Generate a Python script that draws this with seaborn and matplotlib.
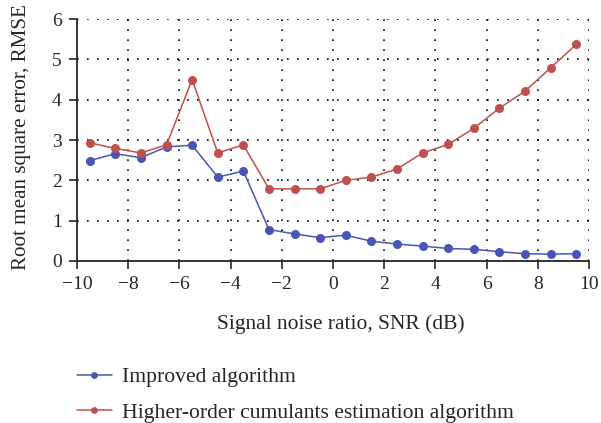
import numpy as np
import pandas as pd
import matplotlib.pyplot as plt
import seaborn as sns

snr = [-9.5, -8.5, -7.5, -6.5, -5.5, -4.5, -3.5, -2.5, -1.5, -0.5,
       0.5, 1.5, 2.5, 3.5, 4.5, 5.5, 6.5, 7.5, 8.5, 9.5]
improved = [2.49, 2.66, 2.56, 2.83, 2.87, 2.08, 2.23, 0.78, 0.67, 0.58,
            0.64, 0.49, 0.42, 0.37, 0.31, 0.29, 0.23, 0.18, 0.17, 0.18]
cumulants = [2.93, 2.79, 2.68, 2.88, 4.50, 2.68, 2.88, 1.79, 1.79, 1.79,
             2.00, 2.08, 2.28, 2.68, 2.89, 3.29, 3.79, 4.21, 4.79, 5.37]
labels = ["Improved algorithm", "Higher-order cumulants estimation algorithm"]

df = pd.DataFrame({
    "snr": snr * 2,
    "rmse": improved + cumulants,
    "alg": [labels[0]] * len(snr) + [labels[1]] * len(snr),
})

sns.set_style("ticks")
plt.rcParams["font.family"] = ["Liberation Serif", "DejaVu Serif"]

fig = plt.figure(figsize=(6.01, 4.23), dpi=100)
ax = fig.add_axes([0.128, 0.383, 0.852, 0.572])

sns.lineplot(data=df, x="snr", y="rmse", hue="alg", marker="o",
             palette=["#4756b5", "#c0504d"], markersize=6.5, markeredgewidth=0,
             linewidth=1.1, ax=ax)

ax.set_xlim(-10, 10)
ax.set_ylim(0, 6)
ax.set_xticks(np.arange(-10, 11, 2))
ax.set_xticklabels(["\u2212" + str(abs(v)) if v < 0 else str(v) for v in range(-10, 11, 2)])
ax.set_yticks(range(0, 7))
ax.grid(True, color="black", linestyle=(0, (1, 5)), linewidth=1.2)
ax.spines["top"].set_visible(False)
ax.spines["right"].set_visible(False)
ax.spines["left"].set_linewidth(1.3)
ax.spines["bottom"].set_linewidth(1.3)
ax.tick_params(direction="out", length=6, width=1.2, labelsize=14, pad=5)
ax.set_xlabel("Signal noise ratio, SNR (dB)", fontsize=15.5, labelpad=15)
ax.xaxis.label.set_x(0.515)
ax.set_ylabel("Root mean square error, RMSE", fontsize=15.2, labelpad=15)
ax.yaxis.label.set_y(0.512)

ax.legend(loc="upper left", bbox_to_anchor=(0.128, 0.132),
          bbox_transform=fig.transFigure, frameon=False, borderpad=0,
          borderaxespad=0, fontsize=15.6, handlelength=1.6,
          handletextpad=0.5, labelspacing=0.7, markerscale=0.75)

fig.savefig("out.png", dpi=100)
